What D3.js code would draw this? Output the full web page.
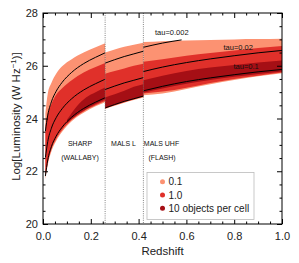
<!DOCTYPE html>
<html>
<head>
<meta charset="utf-8">
<script src="https://cdn.jsdelivr.net/npm/d3@7"></script>
<style>
body { margin: 0; background: #fff; }
text { font-family: "Liberation Sans", Arial, sans-serif; }
</style>
</head>
<body>
<div id="chart"></div>
<script>
const WIDTH = 299;
const HEIGHT = 263;
const margin = { top: 13, right: 17, bottom: 39, left: 43 };

// Segment 1: SHARP (WALLABY)
const z1 = [0.01, 0.02, 0.035, 0.055, 0.08, 0.12, 0.17, 0.22, 0.26];
const salmonTop1 = [24.2, 24.95, 25.35, 25.7, 25.98, 26.25, 26.5, 26.7, 26.85];
const salmonBot1 = [21.7, 22.25, 22.75, 23.15, 23.5, 23.9, 24.22, 24.46, 24.62];
const redTop1 = [23.7, 24.2, 24.55, 24.9, 25.15, 25.45, 25.74, 25.95, 26.1];
const redBot1 = [21.78, 22.32, 22.82, 23.22, 23.56, 23.95, 24.27, 24.5, 24.66];
const darkZ1 = [0.1, 0.14, 0.18, 0.22, 0.26];
const darkTop1 = [23.95, 24.45, 24.8, 25.0, 25.18];
const darkBot1 = [23.82, 24.12, 24.35, 24.55, 24.72];
const tau002_1 = [23.52, 24.13, 24.63, 25.03, 25.37, 25.75, 26.08, 26.32, 26.49];
const tau02_1 = [22.52, 23.13, 23.63, 24.03, 24.37, 24.75, 25.08, 25.32, 25.49];
const tau1_1 = [21.82, 22.43, 22.93, 23.33, 23.67, 24.05, 24.38, 24.62, 24.79];

// Segment 2: MALS L
const z2 = [0.26, 0.3, 0.34, 0.38, 0.42];
const salmonTop2 = [26.5, 26.62, 26.72, 26.8, 26.87];
const salmonBot2 = [24.36, 24.48, 24.6, 24.7, 24.8];
const redTop2 = [25.7, 25.8, 25.9, 26.0, 26.08];
const redBot2 = [24.38, 24.5, 24.62, 24.72, 24.82];
const darkTop2 = [24.8, 24.92, 25.05, 25.2, 25.3];
const darkBot2 = [24.4, 24.53, 24.65, 24.75, 24.85];
const tau002_2 = [26.1, 26.23, 26.35, 26.45, 26.55];
const tau02_2 = [25.1, 25.23, 25.35, 25.45, 25.55];
const tau1_2 = [24.4, 24.53, 24.65, 24.75, 24.85];

// Segment 3: MALS UHF (FLASH)
const z3 = [0.42, 0.5, 0.6, 0.7, 0.8, 0.9, 1.0];
const salmonTop3 = [26.9, 26.93, 26.96, 26.98, 27.0, 27.01, 27.02];
const salmonBot3 = [24.88, 24.95, 25.12, 25.3, 25.46, 25.6, 25.72];
const redTop3 = [26.15, 26.25, 26.38, 26.48, 26.58, 26.67, 26.75];
const redBot3 = [24.95, 25.02, 25.17, 25.35, 25.5, 25.62, 25.74];
const darkTop3 = [25.45, 25.62, 25.8, 25.93, 26.03, 26.12, 26.2];
const darkBot3 = [24.98, 25.14, 25.32, 25.46, 25.58, 25.69, 25.78];
const tau02_3 = [25.78, 25.95, 26.12, 26.26, 26.38, 26.49, 26.58];
const tau1_3 = [25.05, 25.22, 25.4, 25.54, 25.66, 25.77, 25.86];
const z3top = [0.42, 0.5, 0.58];
const tau002_3 = [26.7, 26.86, 26.98];

const surveyEdges = [0.26, 0.42];
const legendLabels = ['0.1', '1.0', '10 objects per cell'];
const colors = ['#fc9272', '#e0302a', '#a50f15'];
const xTicks = [0, 0.2, 0.4, 0.6, 0.8, 1.0];
const yTicks = [20, 22, 24, 26, 28];

const svg = d3.select('#chart')
    .append('svg')
    .attr('width', WIDTH)
    .attr('height', HEIGHT);

const x = d3.scaleLinear().domain([0, 1]).range([margin.left, WIDTH - margin.right]);
const y = d3.scaleLinear().domain([20, 28]).range([HEIGHT - margin.bottom, margin.top]);

svg.append('clipPath').attr('id', 'plot')
    .append('rect')
    .attr('x', x(0)).attr('y', y(28))
    .attr('width', x(1) - x(0)).attr('height', y(20) - y(28));

const plot = svg.append('g').attr('clip-path', 'url(#plot)');

const band = (zs, top, bot) => zs.map((z, i) => ({ z, t: top[i], b: bot[i] }));
const pts = (zs, vs) => zs.map((z, i) => ({ z, v: vs[i] }));

const area = d3.area()
    .x(d => x(d.z)).y0(d => y(d.b)).y1(d => y(d.t))
    .curve(d3.curveMonotoneX);
const line = d3.line()
    .x(d => x(d.z)).y(d => y(d.v))
    .curve(d3.curveMonotoneX);

const bands = [
    [band(z1, salmonTop1, salmonBot1), colors[0]],
    [band(z2, salmonTop2, salmonBot2), colors[0]],
    [band(z3, salmonTop3, salmonBot3), colors[0]],
    [band(z1, redTop1, redBot1), colors[1]],
    [band(z2, redTop2, redBot2), colors[1]],
    [band(z3, redTop3, redBot3), colors[1]],
    [band(darkZ1, darkTop1, darkBot1), colors[2]],
    [band(z2, darkTop2, darkBot2), colors[2]],
    [band(z3, darkTop3, darkBot3), colors[2]]
];

plot.selectAll('path.band')
    .data(bands)
    .enter()
    .append('path')
    .attr('class', 'band')
    .attr('d', d => area(d[0]))
    .attr('fill', d => d[1]);

const lines = [
    pts(z1, tau002_1), pts(z1, tau02_1), pts(z1, tau1_1),
    pts(z2, tau002_2), pts(z2, tau02_2), pts(z2, tau1_2),
    pts(z3top, tau002_3), pts(z3, tau02_3), pts(z3, tau1_3)
];

plot.selectAll('path.tau')
    .data(lines)
    .enter()
    .append('path')
    .attr('class', 'tau')
    .attr('d', d => line(d))
    .attr('fill', 'none')
    .attr('stroke', '#000')
    .attr('stroke-width', 1);

// Survey boundaries
svg.selectAll('line.edge')
    .data(surveyEdges)
    .enter()
    .append('line')
    .attr('class', 'edge')
    .attr('x1', d => x(d)).attr('x2', d => x(d))
    .attr('y1', y(28)).attr('y2', y(20))
    .attr('stroke', '#666')
    .attr('stroke-width', 0.8)
    .attr('stroke-dasharray', '1,1.2');

// Axes
const minorX = d3.range(0, 1.001, 0.05).filter(v => Math.abs(v * 5 - Math.round(v * 5)) > 1e-6);
const minorY = d3.range(20, 28.001, 0.5).filter(v => v % 2 !== 0);

function styleAxis(g) {
    g.select('.domain').remove();
    g.selectAll('line').attr('stroke', '#000');
    g.selectAll('text')
        .attr('font-family', '"Liberation Sans", Arial, sans-serif')
        .attr('font-size', 11)
        .attr('fill', '#222');
}

svg.append('g')
    .attr('transform', `translate(0,${y(20)})`)
    .call(d3.axisBottom(x).tickValues(xTicks).tickSize(-5).tickPadding(8).tickFormat(d3.format('.1f')))
    .call(styleAxis);
svg.append('g')
    .attr('transform', `translate(0,${y(20)})`)
    .call(d3.axisBottom(x).tickValues(minorX).tickSize(-2.5).tickFormat(''))
    .call(styleAxis);
svg.append('g')
    .attr('transform', `translate(0,${y(28)})`)
    .call(d3.axisTop(x).tickValues(xTicks).tickSize(-5).tickFormat(''))
    .call(styleAxis);
svg.append('g')
    .attr('transform', `translate(0,${y(28)})`)
    .call(d3.axisTop(x).tickValues(minorX).tickSize(-2.5).tickFormat(''))
    .call(styleAxis);

svg.append('g')
    .attr('transform', `translate(${x(0)},0)`)
    .call(d3.axisLeft(y).tickValues(yTicks).tickSize(-5).tickPadding(5).tickFormat(d3.format('d')))
    .call(styleAxis);
svg.append('g')
    .attr('transform', `translate(${x(0)},0)`)
    .call(d3.axisLeft(y).tickValues(minorY).tickSize(-2.5).tickFormat(''))
    .call(styleAxis);
svg.append('g')
    .attr('transform', `translate(${x(1)},0)`)
    .call(d3.axisRight(y).tickValues(yTicks).tickSize(-5).tickFormat(''))
    .call(styleAxis);
svg.append('g')
    .attr('transform', `translate(${x(1)},0)`)
    .call(d3.axisRight(y).tickValues(minorY).tickSize(-2.5).tickFormat(''))
    .call(styleAxis);

// Frame
svg.append('rect')
    .attr('x', x(0)).attr('y', y(28))
    .attr('width', x(1) - x(0)).attr('height', y(20) - y(28))
    .attr('fill', 'none')
    .attr('stroke', '#000')
    .attr('stroke-width', 1);

// Axis titles
svg.append('text')
    .attr('x', (x(0) + x(1)) / 2)
    .attr('y', 255)
    .attr('text-anchor', 'middle')
    .attr('font-size', 11.5)
    .attr('fill', '#222')
    .text('Redshift');

const yTitle = svg.append('text')
    .attr('transform', `translate(20,${(y(20) + y(28)) / 2 - 2}) rotate(-90)`)
    .attr('text-anchor', 'middle')
    .attr('font-size', 11.5)
    .attr('fill', '#222');
yTitle.append('tspan').text('Log[Luminosity (W Hz');
yTitle.append('tspan').attr('font-size', 8).attr('dy', -4).text('\u22121');
yTitle.append('tspan').attr('dy', 4).text(')]');

// Survey labels
const surveyText = [
    ['SHARP', 80, 146], ['(WALLABY)', 80, 159.5],
    ['MALS L', 123.5, 146],
    ['MALS UHF', 161.5, 146], ['(FLASH)', 162, 159.5]
];
svg.selectAll('text.survey')
    .data(surveyText)
    .enter()
    .append('text')
    .attr('class', 'survey')
    .attr('x', d => d[1]).attr('y', d => d[2])
    .attr('text-anchor', 'middle')
    .attr('font-size', 7)
    .attr('fill', '#111')
    .text(d => d[0]);

// Optical depth labels
const tauText = [
    ['tau=0.002', 155, 35],
    ['tau=0.02', 223.5, 50],
    ['tau=0.1', 233.5, 68.5]
];
svg.selectAll('text.tau')
    .data(tauText)
    .enter()
    .append('text')
    .attr('class', 'tau')
    .attr('x', d => d[1]).attr('y', d => d[2])
    .attr('font-size', 7.5)
    .attr('fill', '#111')
    .text(d => d[0]);

// Legend
const legend = svg.append('g');
legend.append('rect')
    .attr('x', 147).attr('y', 172.5)
    .attr('width', 107).attr('height', 47)
    .attr('fill', '#fff')
    .attr('stroke', '#bbb')
    .attr('stroke-width', 0.8);
const items = legend.selectAll('g.item')
    .data(legendLabels)
    .enter()
    .append('g')
    .attr('class', 'item')
    .attr('transform', (d, i) => `translate(162.5,${181.7 + i * 13.3})`);
items.append('circle')
    .attr('r', 2.5)
    .attr('fill', (d, i) => colors[i]);
items.append('text')
    .attr('x', 6)
    .attr('dy', '0.35em')
    .attr('font-size', 10)
    .attr('fill', '#222')
    .text(d => d);
</script>
</body>
</html>
